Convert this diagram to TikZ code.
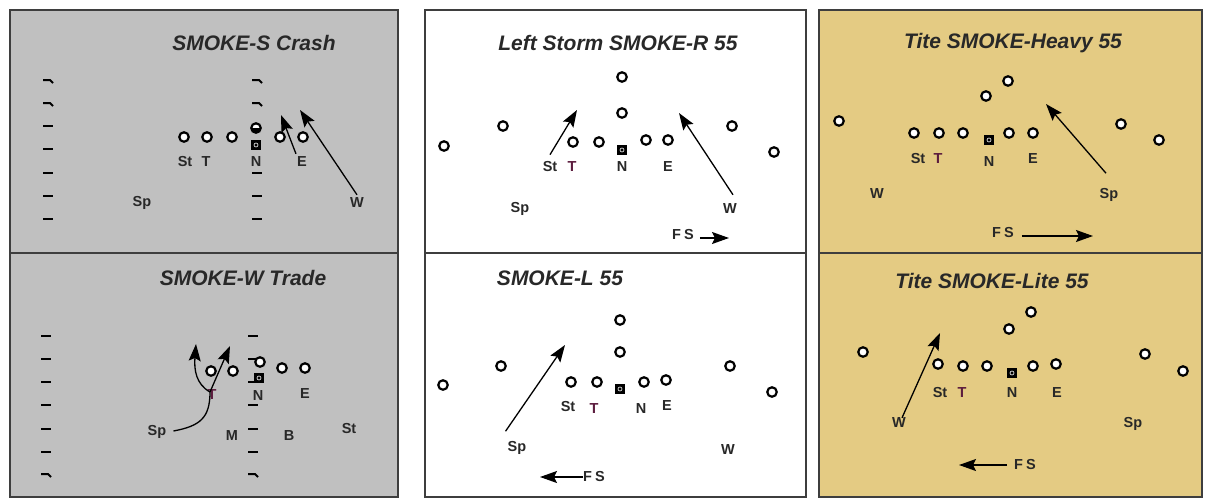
\documentclass[tikz,border=0pt]{standalone}
\usepackage{fontspec}
\setmainfont{Liberation Sans}
\usetikzlibrary{arrows.meta}
\definecolor{fieldgray}{RGB}{192,192,192}
\definecolor{fieldtan}{RGB}{228,203,131}
\definecolor{framegray}{RGB}{62,62,62}
\definecolor{inkgray}{RGB}{40,40,40}
\definecolor{tackle}{RGB}{92,28,62}
\begin{document}
\begin{tikzpicture}[x=1pt,y=-1pt,
    man/.style={circle,draw=black,fill=white,line width=2.2pt,inner sep=0pt,minimum size=9.5pt},
    ball/.style={rectangle,fill=black,inner sep=0pt,minimum size=10.5pt,
      path picture={\draw[white,line width=0.6pt] (path picture bounding box.center) circle (2pt);}},
    tag/.style={font=\bfseries\fontsize{14.5}{14.5}\selectfont,text=inkgray,inner sep=0pt},
    title/.style={font=\bfseries\itshape\fontsize{21}{21}\selectfont,text=inkgray,inner sep=0pt},
    route/.style={line width=1.3pt,-{Stealth[length=17pt,width=12pt,inset=3pt]}},
    yard/.style={line width=2pt},
    frame/.style={draw=framegray,line width=2pt}]
    \useasboundingbox (0,0) rectangle (1205,498);
    \fill[fieldgray] (10,10) rectangle (398,497);
    \fill[white] (425,10) rectangle (806,497);
    \fill[fieldtan] (819,10) rectangle (1202,497);
    \draw[frame] (10,10) rectangle (398,497);
    \draw[frame] (10,253) -- (398,253);
    \draw[frame] (425,10) rectangle (806,497);
    \draw[frame] (425,253) -- (806,253);
    \draw[frame] (819,10) rectangle (1202,497);
    \draw[frame] (819,253) -- (1202,253);

    % SMOKE-S Crash
    \node[title] (atitle) at (254,43) {SMOKE-S Crash};
    \foreach \x in {48,257} {
      \draw[yard] (\x-5,80) -- (\x+2,80) -- (\x+5,83);
      \draw[yard] (\x-5,103) -- (\x+2,103) -- (\x+5,106);
      \foreach \y in {173,196,219} \draw[yard] (\x-5,\y) -- (\x+5,\y);
    }
    \foreach \y in {126,149} \draw[yard] (43,\y) -- (53,\y);
    \foreach \x [count=\i] in {184,207,232,280,303} \node[man] (am\i) at (\x,137) {};
    \node[man] (am6) at (256,128) {};
    \fill (251,128) arc (180:0:5) -- cycle;
    \node[ball] (aball) at (256,145) {};
    \node[tag] (ast) at (185,162) {St};
    \node[tag] (at) at (206,162) {T};
    \node[tag] (an) at (256,162) {N};
    \node[tag] (ae) at (302,162) {E};
    \node[tag] (asp) at (142,203) {Sp};
    \node[tag] (aw) at (357,203) {W};
    \coordinate (aetip) at (281,115);
    \coordinate (awtip) at (300,110);
    \draw[route] ([xshift=-1pt,yshift=3pt]ae.north west) -- (aetip);
    \draw[route] ([yshift=3pt]aw.north) -- (awtip);

    % SMOKE-W Trade
    \node[title] (btitle) at (243,278) {SMOKE-W Trade};
    \foreach \x in {46,253} {
      \foreach \y in {336,359,382,405,429,452} \draw[yard] (\x-5,\y) -- (\x+5,\y);
      \draw[yard] (\x-5,474) -- (\x+2,474) -- (\x+5,477);
    }
    \node[man] (bm1) at (211,371) {};
    \node[man] (bm2) at (233,371) {};
    \node[man] (bm3) at (260,362) {};
    \node[man] (bm4) at (282,368) {};
    \node[man] (bm5) at (305,368) {};
    \node[ball] (bball) at (259,378) {};
    \node[tag,text=tackle] (bt) at (212,395) {T};
    \node[tag] (bn) at (258,396) {N};
    \node[tag] (be) at (305,394) {E};
    \node[tag] (bsp) at (157,432) {Sp};
    \node[tag] (bmk) at (232,436) {M};
    \node[tag] (bb) at (289,436) {B};
    \node[tag] (bst) at (349,429) {St};
    \coordinate (bfork) at (210,392);
    \coordinate (blefttip) at (196,344);
    \coordinate (brighttip) at (230,346);
    \draw[line width=1.3pt] ([xshift=7pt,yshift=1pt]bsp.east) .. controls (200,426) and (210,418) .. (bfork);
    \draw[route] (bfork) .. controls (196,384) and (194,370) .. (blefttip);
    \draw[route] (bfork) -- (brighttip);

    % Left Storm SMOKE-R 55
    \node[title] (ctitle) at (618,43) {Left Storm SMOKE-R 55};
    \node[man] (cm1) at (622,77) {};
    \node[man] (cm2) at (622,113) {};
    \node[man] (cm3) at (503,126) {};
    \node[man] (cm4) at (444,146) {};
    \node[man] (cm5) at (573,142) {};
    \node[man] (cm6) at (599,142) {};
    \node[man] (cm7) at (646,140) {};
    \node[man] (cm8) at (668,140) {};
    \node[man] (cm9) at (732,126) {};
    \node[man] (cm10) at (774,152) {};
    \node[ball] (cball) at (622,150) {};
    \node[tag] (cst) at (550,167) {St};
    \node[tag,text=tackle] (ct) at (572,167) {T};
    \node[tag] (cn) at (622,167) {N};
    \node[tag] (ce) at (668,167) {E};
    \node[tag] (csp) at (520,209) {Sp};
    \node[tag] (cw) at (730,209) {W};
    \node[tag] (cfs) at (683,235) {F\kern3pt S};
    \coordinate (csttip) at (577,110);
    \coordinate (cwtip) at (679,113);
    \coordinate (cfstip) at (729,238);
    \draw[route] ([yshift=7pt]cst.north) -- (csttip);
    \draw[route] ([xshift=3pt,yshift=9pt]cw.north) -- (cwtip);
    \draw[route] ([xshift=6pt,yshift=-3pt]cfs.east) -- (cfstip);

    % SMOKE-L 55
    \node[title] (dtitle) at (560,278) {SMOKE-L 55};
    \node[man] (dm1) at (620,320) {};
    \node[man] (dm2) at (620,352) {};
    \node[man] (dm3) at (501,366) {};
    \node[man] (dm4) at (443,385) {};
    \node[man] (dm5) at (571,382) {};
    \node[man] (dm6) at (597,382) {};
    \node[man] (dm7) at (644,382) {};
    \node[man] (dm8) at (666,380) {};
    \node[man] (dm9) at (730,366) {};
    \node[man] (dm10) at (772,392) {};
    \node[ball] (dball) at (620,389) {};
    \node[tag] (dst) at (568,407) {St};
    \node[tag,text=tackle] (dt) at (594,409) {T};
    \node[tag] (dn) at (641,409) {N};
    \node[tag] (de) at (667,406) {E};
    \node[tag] (dsp) at (517,448) {Sp};
    \node[tag] (dw) at (728,450) {W};
    \node[tag] (dfs) at (594,477) {F\kern3pt S};
    \coordinate (dsptip) at (565,345);
    \coordinate (dfstip) at (540,477);
    \draw[route] ([xshift=-2pt,yshift=10pt]dsp.north west) -- (dsptip);
    \draw[route] (dfs.west) -- (dfstip);

    % Tite SMOKE-Heavy 55
    \node[title] (etitle) at (1013,43) {Tite SMOKE-Heavy 55};
    \node[man] (em1) at (1008,81) {};
    \node[man] (em2) at (986,96) {};
    \node[man] (em3) at (839,121) {};
    \node[man] (em4) at (914,133) {};
    \node[man] (em5) at (939,133) {};
    \node[man] (em6) at (963,133) {};
    \node[man] (em7) at (1009,133) {};
    \node[man] (em8) at (1033,133) {};
    \node[man] (em9) at (1121,124) {};
    \node[man] (em10) at (1159,140) {};
    \node[ball] (eball) at (989,140) {};
    \node[tag] (est) at (918,159) {St};
    \node[tag,text=tackle] (et) at (938,159) {T};
    \node[tag] (en) at (989,162) {N};
    \node[tag] (ee) at (1033,159) {E};
    \node[tag] (ew) at (877,194) {W};
    \node[tag] (esp) at (1109,195) {Sp};
    \node[tag] (efs) at (1003,233) {F\kern3pt S};
    \coordinate (esptip) at (1046,104);
    \coordinate (efstip) at (1093,236);
    \draw[route] ([xshift=-3pt,yshift=15pt]esp.north) -- (esptip);
    \draw[route] ([xshift=8pt,yshift=-3pt]efs.east) -- (efstip);

    % Tite SMOKE-Lite 55
    \node[title] (ftitle) at (992,281) {Tite SMOKE-Lite 55};
    \node[man] (fm1) at (1031,312) {};
    \node[man] (fm2) at (1009,329) {};
    \node[man] (fm3) at (863,352) {};
    \node[man] (fm4) at (938,364) {};
    \node[man] (fm5) at (963,366) {};
    \node[man] (fm6) at (987,366) {};
    \node[man] (fm7) at (1033,366) {};
    \node[man] (fm8) at (1056,364) {};
    \node[man] (fm9) at (1145,354) {};
    \node[man] (fm10) at (1183,371) {};
    \node[ball] (fball) at (1012,373) {};
    \node[tag] (fst) at (940,393) {St};
    \node[tag,text=tackle] (ft) at (962,393) {T};
    \node[tag] (fn) at (1012,393) {N};
    \node[tag] (fe) at (1057,393) {E};
    \node[tag] (fw) at (899,423) {W};
    \node[tag] (fsp) at (1133,424) {Sp};
    \node[tag] (ffs) at (1025,465) {F\kern3pt S};
    \coordinate (fwtip) at (940,333);
    \coordinate (ffstip) at (959,465);
    \draw[route] ([xshift=3pt]fw.north) -- (fwtip);
    \draw[route] ([xshift=-7pt]ffs.west) -- (ffstip);
\end{tikzpicture}
\end{document}
